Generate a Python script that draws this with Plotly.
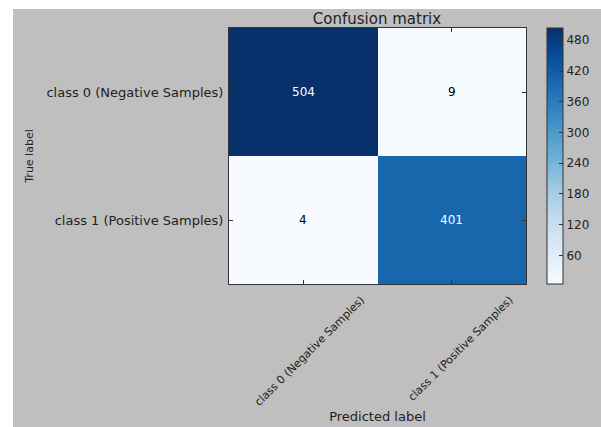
import plotly.graph_objects as go

classes = ["class 0 (Negative Samples)", "class 1 (Positive Samples)"]
matrix = [[504, 9],
          [4, 401]]
cbar_ticks = [60, 120, 180, 240, 300, 360, 420, 480]

W, H = 601, 427
L, R, T, B = 229, 601 - 526, 28, 427 - 284
pw = W - L - R
ph = H - T - B

font = "DejaVu Sans"
fig = go.Figure(go.Heatmap(
    z=matrix, x=classes, y=classes,
    colorscale="Blues", zmin=4, zmax=504,
    colorbar=dict(
        x=(547 - L) / pw, xanchor="left", xref="paper",
        y=0, yanchor="bottom", yref="paper", len=1, lenmode="fraction",
        thickness=16, outlinewidth=1, outlinecolor="#333",
        tickvals=cbar_ticks, ticks="inside", ticklen=4, tickcolor="#333",
        tickfont=dict(family=font, size=12, color="#222"),
        xpad=0, ypad=0,
    ),
    hoverinfo="skip",
))

thresh = max(max(r) for r in matrix) / 2
for i, row in enumerate(matrix):
    for j, v in enumerate(row):
        fig.add_annotation(x=classes[j], y=classes[i], text=str(v), showarrow=False,
                           font=dict(family=font, size=12,
                                     color="white" if v > thresh else "black"))

# white strips on the left and top edges
fig.add_shape(type="rect", xref="paper", yref="paper",
              x0=-L / pw - 0.1, x1=(13 - L) / pw, y0=-B / ph - 0.1, y1=1 + T / ph + 0.1,
              fillcolor="white", line_width=0, layer="below")
fig.add_shape(type="rect", xref="paper", yref="paper",
              x0=-L / pw - 0.1, x1=1 + R / pw + 0.1, y0=1 + (T - 9) / ph, y1=1 + T / ph + 0.1,
              fillcolor="white", line_width=0, layer="below")

fig.update_layout(
    width=W, height=H,
    margin=dict(l=L, r=R, t=T, b=B, autoexpand=False),
    paper_bgcolor="#bfbfbf", plot_bgcolor="white",
    font=dict(family=font, color="#222"),
    title=dict(text="Confusion matrix", x=377 / W, xanchor="center",
               y=1 - 19 / H, yanchor="middle", font=dict(family=font, size=15)),
    xaxis=dict(title=dict(text="Predicted label", font=dict(size=13), standoff=4),
               automargin=False,
               tickangle=-45, ticks="inside", ticklen=4, tickcolor="#333",
               showline=True, linecolor="#333", linewidth=1, mirror="ticks",
               tickfont=dict(size=11), ticklabelshift=58, ticklabelstandoff=4,
               showgrid=False, zeroline=False),
    yaxis=dict(title=dict(text="True label", font=dict(size=11), standoff=10),
               automargin=False,
               autorange="reversed", ticks="inside", ticklen=4, tickcolor="#333",
               showline=True, linecolor="#333", linewidth=1, mirror="ticks",
               tickfont=dict(size=13), ticklabelstandoff=2,
               showgrid=False, zeroline=False),
)

fig.write_html("out.html", config={"displayModeBar": False},
               post_script="document.body.style.margin='0';")
